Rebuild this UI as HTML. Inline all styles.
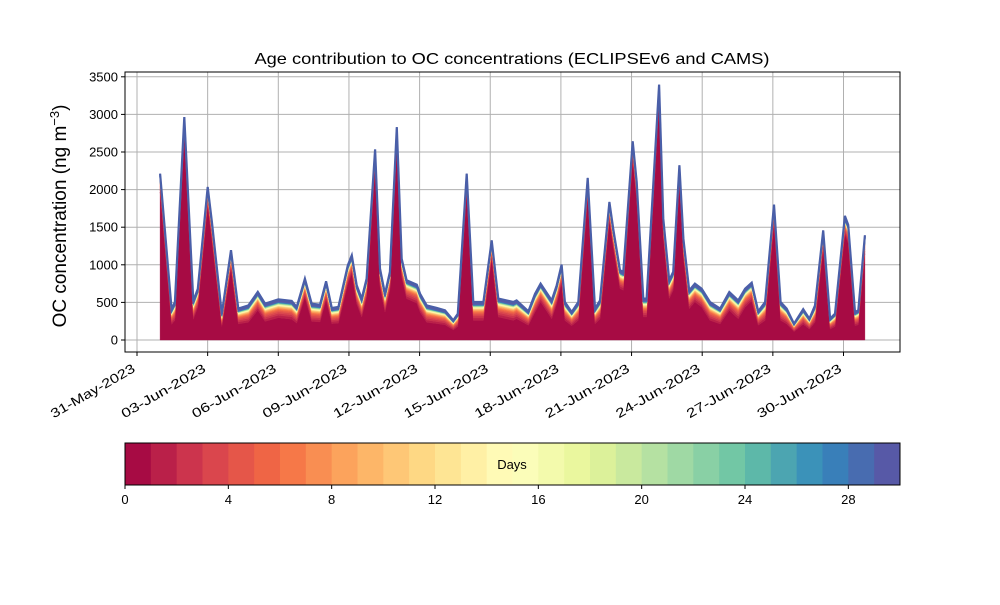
<!DOCTYPE html>
<html><head><meta charset="utf-8"><style>
body{margin:0;background:#fff;font-family:"Liberation Sans",sans-serif}
svg text{font-family:"Liberation Sans",sans-serif}
</style></head><body>
<svg id="c" width="1000" height="600" xmlns="http://www.w3.org/2000/svg"></svg>
<script>
// days since 31-May-2023
const tDays=[0.98,1.47,1.61,2.01,2.39,2.58,3.00,3.18,3.60,3.99,4.30,4.73,5.13,5.44,6.00,6.57,6.78,7.13,7.42,7.77,8.03,8.27,8.55,8.95,9.12,9.33,9.54,9.75,10.11,10.32,10.53,10.74,11.03,11.24,11.45,11.88,12.02,12.30,12.73,13.08,13.43,13.62,14.00,14.28,14.71,15.06,15.34,15.98,16.12,16.62,16.90,17.14,17.61,17.82,18.03,18.17,18.46,18.74,19.14,19.45,19.66,20.06,20.22,20.51,20.65,21.05,21.22,21.50,21.64,22.17,22.35,22.60,22.77,23.03,23.20,23.45,23.69,23.98,24.33,24.76,25.15,25.53,25.82,26.10,26.38,26.67,27.05,27.33,27.59,27.90,28.29,28.55,28.79,29.14,29.43,29.64,30.06,30.20,30.49,30.63,30.91];
const totals=[2212,410,505,2965,520,680,2035,1570,350,1195,417,460,640,483,540,520,440,815,483,470,780,425,440,993,1126,727,550,815,2535,950,615,905,2830,1080,795,735,615,460,425,395,262,350,2212,505,505,1325,550,505,527,382,615,750,527,727,1002,505,372,505,2155,417,527,1835,1480,927,905,2642,2100,550,550,3395,1613,795,905,2323,1347,660,750,682,505,417,638,527,682,762,382,505,1800,505,417,217,410,283,460,1458,283,350,1650,1530,372,395,1392];
// typical contribution (ng m-3) of age bins 1..29 at background levels
const binBg=[32,26,21,17,14,11,9,8,7,6,5,4,4,3,3,3,3,3,3,3,3,3,3,3,4,5,6,10,22];
const yTicks=[0,500,1000,1500,2000,2500,3000,3500];
const dateLabels=["31-May-2023","03-Jun-2023","06-Jun-2023","09-Jun-2023","12-Jun-2023","15-Jun-2023","18-Jun-2023","21-Jun-2023","24-Jun-2023","27-Jun-2023","30-Jun-2023"];
const dateTicks=[0,3,6,9,12,15,18,21,24,27,30];
const cbTicks=[0,4,8,12,16,20,24,28];

const NS="http://www.w3.org/2000/svg",svg=document.getElementById('c');
function el(t,a,p){const e=document.createElementNS(NS,t);for(const k in a)e.setAttribute(k,a[k]);(p||svg).appendChild(e);return e;}
const X0=125,X1=900,Y0=72,Y1=352;
const xs=d=>137+d*23.55, ys=v=>340-v*0.0752;
const stops=[[158,1,66],[213,62,79],[244,109,67],[253,174,97],[254,224,139],[255,255,191],[230,245,152],[171,221,164],[102,194,165],[50,136,189],[94,79,162]];
function spectral(f){const p=f*10,i=Math.min(9,Math.floor(p)),r=p-i,a=stops[i],b=stops[i+1];return `rgb(${a.map((c,k)=>Math.round(c+(b[k]-c)*r)).join(',')})`;}

const grid=el('g',{});
yTicks.forEach(v=>el('line',{x1:X0,x2:X1,y1:ys(v),y2:ys(v),stroke:'#b0b0b0','stroke-width':1},grid));
dateTicks.forEach(d=>el('line',{x1:xs(d),x2:xs(d),y1:Y0,y2:Y1,stroke:'#b0b0b0','stroke-width':1},grid));

const n=totals.length;
const cum=totals.map(()=>0);
const tops=[];
for(let b=0;b<30;b++){
  const vals=totals.map((t,i)=>{
    const f=Math.min(1,t/500);
    const s=binBg.reduce((a,c)=>a+c,0)*f;
    return b===0? t-s : binBg[b-1]*f;
  });
  const lower=cum.slice();
  vals.forEach((v,i)=>cum[i]+=v);
  tops.push({b,lower,upper:cum.slice()});
}
const area=el('g',{});
tops.forEach(L=>{
  let d='M'+L.upper.map((v,i)=>xs(tDays[i]).toFixed(1)+','+ys(v).toFixed(1)).join('L');
  for(let i=n-1;i>=0;i--)d+='L'+xs(tDays[i]).toFixed(1)+','+ys(L.lower[i]).toFixed(1);
  const p=el('path',{d:d+'Z',fill:spectral((L.b+0.5)/30),stroke:spectral((L.b+0.5)/30),'stroke-width':L.b>=27?1.5:0.4},area);
  
  
});
const outline=el('path',{d:'M'+cum.map((v,i)=>xs(tDays[i]).toFixed(1)+','+ys(v).toFixed(1)).join('L'),fill:'none',stroke:'#4a5fa8','stroke-width':2.2});



const fr=el('rect',{x:X0,y:Y0,width:X1-X0,height:Y1-Y0,fill:'none',stroke:'#000','stroke-width':1});

yTicks.forEach(v=>{el('line',{x1:X0-4,x2:X0,y1:ys(v),y2:ys(v),stroke:'#000'});
  const t=el('text',{x:X0-7,y:ys(v)+4.5,'text-anchor':'end','font-size':13});t.textContent=v;
  });
dateTicks.forEach((d,i)=>{const x=xs(d);el('line',{x1:x,x2:x,y1:Y1,y2:Y1+4,stroke:'#000'});
  const ax=x-1,ay=Y1+19;
  const t=el('text',{x:ax,y:ay,'text-anchor':'end','font-size':13,textLength:95,lengthAdjust:'spacingAndGlyphs',transform:`rotate(-30 ${ax} ${ay})`});t.textContent=dateLabels[i];
  });
const ti=el('text',{x:512,y:64,'text-anchor':'middle','font-size':16,textLength:515,lengthAdjust:'spacingAndGlyphs'});ti.textContent='Age contribution to OC concentrations (ECLIPSEv6 and CAMS)';

const yl=el('text',{x:66,y:216,'text-anchor':'middle','font-size':19,transform:'rotate(-90 66 216)'});
yl.innerHTML='OC concentration (ng m<tspan dy="-7" font-size="13">−3</tspan><tspan dy="7">)</tspan>';


const cb=el('g',{});
const cw=(900-125)/30;
for(let i=0;i<30;i++)el('rect',{x:125+i*cw,y:443,width:cw+0.5,height:42,fill:spectral((i+0.5)/30)},cb);
el('rect',{x:125,y:443,width:775,height:42,fill:'none',stroke:'#000'},cb);
cbTicks.forEach(v=>{const x=125+v*cw;el('line',{x1:x,x2:x,y1:485,y2:489,stroke:'#000'},cb);
  const t=el('text',{x:x,y:504,'text-anchor':'middle','font-size':13},cb);t.textContent=v;
  });
const dl=el('text',{x:512,y:469,'text-anchor':'middle','font-size':13},cb);dl.textContent='Days';

</script>
</body></html>
